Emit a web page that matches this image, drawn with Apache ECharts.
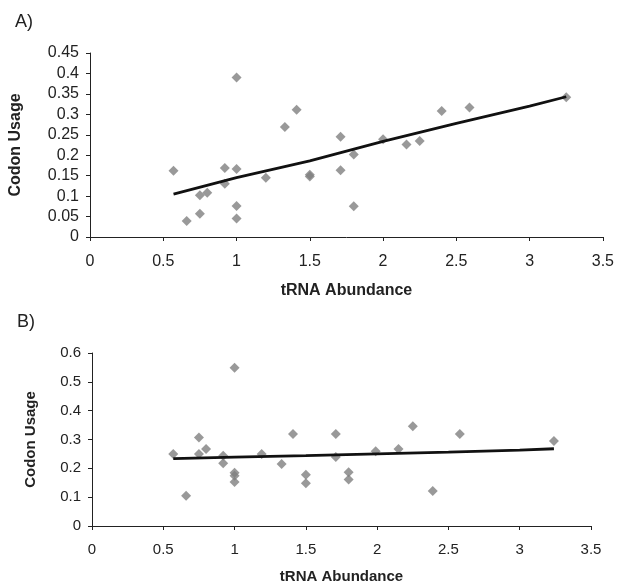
<!DOCTYPE html>
<html><head><meta charset="utf-8">
<script src="https://cdn.jsdelivr.net/npm/echarts@6/dist/echarts.min.js"></script>
<style>html,body{margin:0;padding:0;background:#fff}#c{width:617px;height:585px}</style>
</head><body><div id="c"></div>
<script>
// Panel A data
const aX = [0.57,0.66,0.75,0.75,0.80,0.92,0.92,1.0,1.0,1.0,1.0,1.2,1.33,1.41,1.5,1.5,1.71,1.71,1.8,1.8,2.0,2.16,2.25,2.4,2.59,3.25];
const aY = [0.162,0.039,0.057,0.102,0.108,0.169,0.130,0.390,0.166,0.076,0.045,0.145,0.269,0.311,0.148,0.152,0.245,0.163,0.202,0.075,0.239,0.226,0.235,0.308,0.317,0.342];
const aTrendX = [0.57,1.0,1.5,2.0,2.5,3.0,3.25];
const aTrendY = [0.105,0.145,0.186,0.234,0.278,0.320,0.343];
// Panel B data
const bX = [0.57,0.66,0.75,0.75,0.80,0.92,0.92,1.0,1.0,1.0,1.0,1.19,1.33,1.41,1.5,1.5,1.71,1.71,1.8,1.8,1.99,2.15,2.25,2.39,2.58,3.24];
const bY = [0.250,0.105,0.307,0.250,0.267,0.244,0.218,0.549,0.185,0.174,0.153,0.250,0.215,0.319,0.178,0.148,0.319,0.239,0.186,0.161,0.259,0.267,0.346,0.121,0.319,0.295];
const bTrendX = [0.57,1.0,1.5,2.0,2.5,3.0,3.24];
const bTrendY = [0.234,0.239,0.244,0.250,0.256,0.263,0.268];
// Axis ticks
const xMin = 0, xMax = 3.5, xStep = 0.5;
const aYMax = 0.45, aYStep = 0.05;
const bYMax = 0.6, bYStep = 0.1;
const panelLabels = ['A)', 'B)'];
const xTitle = 'tRNA Abundance';
const yTitle = 'Codon Usage';

const FONT = '"Liberation Sans", Arial, sans-serif';
const zip = (xs, ys) => xs.map((x, i) => [x, ys[i]]);
const fmt = v => String(Math.round(v * 100) / 100);

function xAxis(gi, fs, tfs, margin, gap) {
  return {
    type: 'value', gridIndex: gi, min: xMin, max: xMax, interval: xStep,
    name: xTitle, nameLocation: 'middle', nameGap: gap,
    nameTextStyle: {fontFamily: FONT, fontSize: tfs, fontWeight: 'bold', color: '#222'},
    axisLine: {show: true, lineStyle: {color: '#222', width: 1}},
    axisTick: {show: true, inside: false, length: 4, lineStyle: {color: '#222'}},
    axisLabel: {fontFamily: FONT, fontSize: fs, color: '#222', margin: margin, formatter: fmt},
    splitLine: {show: false}
  };
}
function yAxis(gi, max, step, fs, tfs, gap) {
  return {
    type: 'value', gridIndex: gi, min: 0, max: max, interval: step,
    name: yTitle, nameLocation: 'middle', nameGap: gap, nameRotate: 90,
    nameTextStyle: {fontFamily: FONT, fontSize: tfs, fontWeight: 'bold', color: '#222'},
    axisLine: {show: true, lineStyle: {color: '#222', width: 1}},
    axisTick: {show: true, inside: false, length: 4, lineStyle: {color: '#222'}},
    axisLabel: {fontFamily: FONT, fontSize: fs, color: '#222', margin: 11, formatter: fmt},
    splitLine: {show: false}
  };
}
const chart = echarts.init(document.getElementById('c'), null, {renderer: 'canvas'});
chart.setOption({
  animation: false,
  backgroundColor: '#fff',
  grid: [
    {left: 88, right: 13, top: 53, height: 184},
    {left: 92, right: 26, top: 353, height: 174}
  ],
  xAxis: [xAxis(0, 16, 16, 17, 46), xAxis(1, 15, 15, 16, 43)],
  yAxis: [yAxis(0, aYMax, aYStep, 16, 16, 66), yAxis(1, bYMax, bYStep, 15, 15, 54)],
  graphic: [
    {type: 'text', left: 15, top: 13, style: {text: panelLabels[0], font: '18px ' + FONT, fill: '#222'}},
    {type: 'text', left: 17, top: 313, style: {text: panelLabels[1], font: '18px ' + FONT, fill: '#222'}}
  ],
  series: [
    {type: 'scatter', xAxisIndex: 0, yAxisIndex: 0, symbol: 'diamond', symbolSize: [10, 10],
     itemStyle: {color: '#808080'}, data: zip(aX, aY), z: 2},
    {type: 'line', xAxisIndex: 0, yAxisIndex: 0, showSymbol: false, symbol: 'none',
     lineStyle: {color: '#111', width: 2.8}, data: zip(aTrendX, aTrendY), z: 3},
    {type: 'scatter', xAxisIndex: 1, yAxisIndex: 1, symbol: 'diamond', symbolSize: [10, 10],
     itemStyle: {color: '#808080'}, data: zip(bX, bY), z: 2},
    {type: 'line', xAxisIndex: 1, yAxisIndex: 1, showSymbol: false, symbol: 'none',
     lineStyle: {color: '#111', width: 2.8}, data: zip(bTrendX, bTrendY), z: 3}
  ]
});
</script></body></html>
